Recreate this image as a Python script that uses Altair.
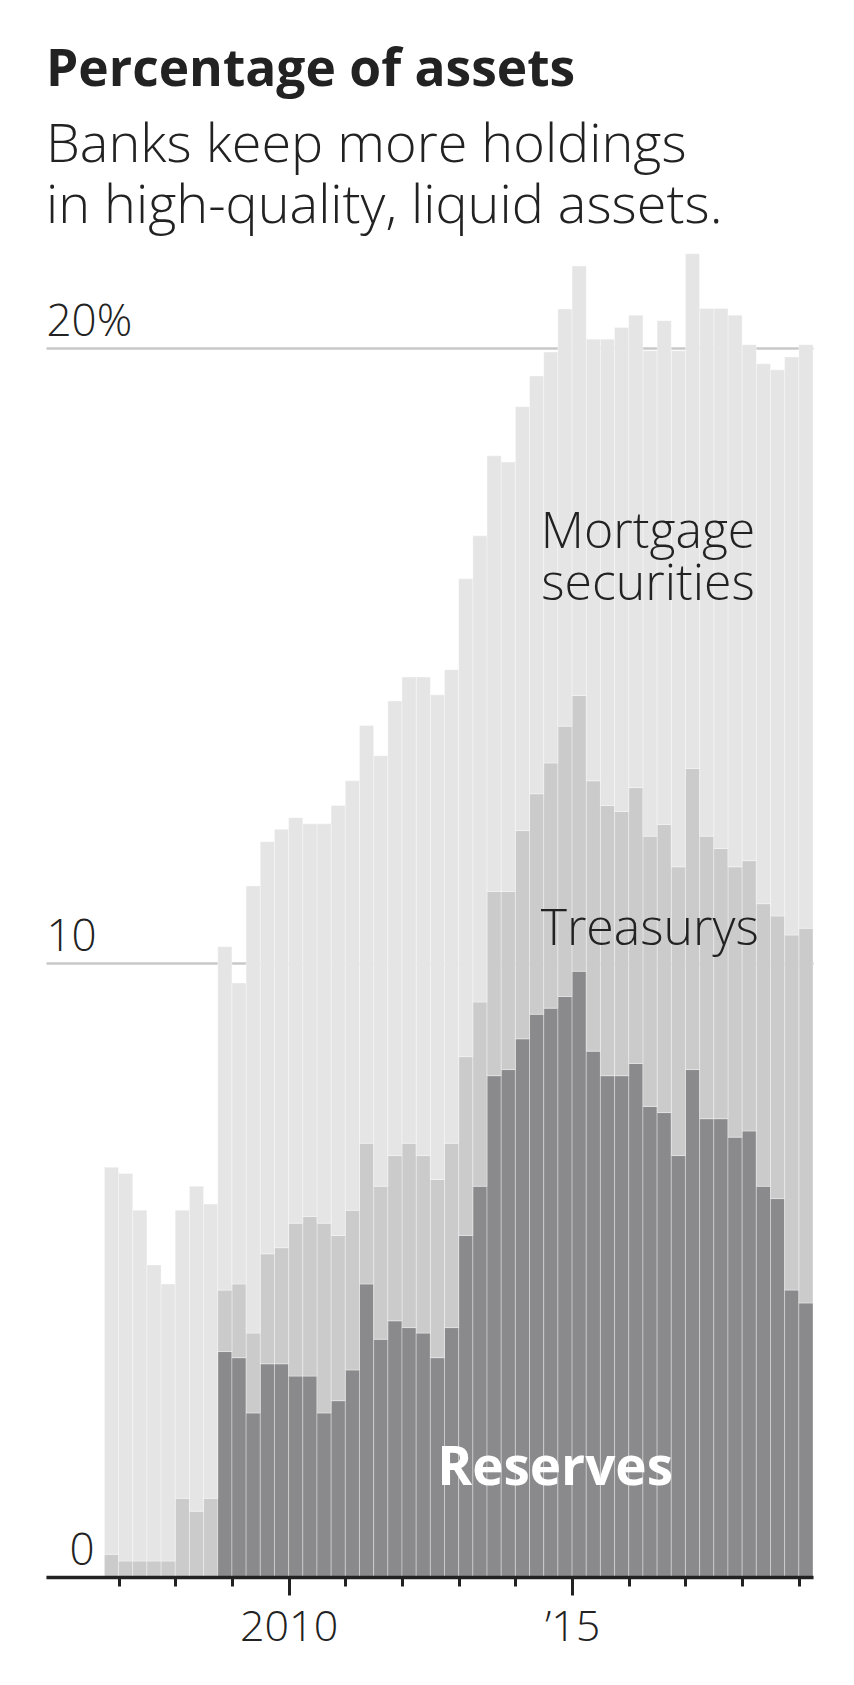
import altair as alt
import pandas as pd

# ---- data (percent of bank assets), quarterly ----
quarters = [
    "2006Q4",
    "2007Q1", "2007Q2", "2007Q3", "2007Q4",
    "2008Q1", "2008Q2", "2008Q3", "2008Q4",
    "2009Q1", "2009Q2", "2009Q3", "2009Q4",
    "2010Q1", "2010Q2", "2010Q3", "2010Q4",
    "2011Q1", "2011Q2", "2011Q3", "2011Q4",
    "2012Q1", "2012Q2", "2012Q3", "2012Q4",
    "2013Q1", "2013Q2", "2013Q3", "2013Q4",
    "2014Q1", "2014Q2", "2014Q3", "2014Q4",
    "2015Q1", "2015Q2", "2015Q3", "2015Q4",
    "2016Q1", "2016Q2", "2016Q3", "2016Q4",
    "2017Q1", "2017Q2", "2017Q3", "2017Q4",
    "2018Q1", "2018Q2", "2018Q3", "2018Q4",
    "2019Q1",
]
reserves = [
    0.00, 0.00, 0.00, 0.00, 0.00, 0.00, 0.00, 0.00, 3.67, 3.57,
    2.67, 3.47, 3.47, 3.27, 3.27, 2.67, 2.87, 3.37, 4.77, 3.87,
    4.17, 4.06, 3.97, 3.57, 4.06, 5.56, 6.36, 8.16, 8.26, 8.76,
    9.16, 9.26, 9.45, 9.86, 8.56, 8.16, 8.16, 8.36, 7.66, 7.56,
    6.86, 8.26, 7.46, 7.46, 7.16, 7.26, 6.36, 6.16, 4.67, 4.46,
]
treasurys = [
    0.37, 0.26, 0.26, 0.26, 0.26, 1.28, 1.07, 1.28, 1.00, 1.20,
    1.30, 1.79, 1.89, 2.49, 2.60, 3.09, 2.69, 2.60, 2.29, 2.49,
    2.69, 3.00, 2.89, 2.90, 3.00, 2.91, 3.00, 3.00, 2.90, 3.39,
    3.59, 3.99, 4.40, 4.49, 4.40, 4.40, 4.30, 4.49, 4.40, 4.69,
    4.70, 4.90, 4.60, 4.40, 4.40, 4.40, 4.60, 4.60, 5.78, 6.10,
]
mortgage = [
    6.30, 6.31, 5.71, 4.82, 4.51, 4.69, 5.29, 4.79, 5.59, 4.90,
    7.28, 6.71, 6.81, 6.60, 6.39, 6.50, 7.00, 6.99, 6.80, 7.01,
    7.40, 7.59, 7.79, 7.89, 7.71, 7.78, 7.59, 7.09, 6.99, 6.90,
    6.80, 6.69, 6.79, 6.99, 7.19, 7.59, 7.88, 7.69, 7.90, 8.20,
    8.40, 8.38, 8.59, 8.79, 8.98, 8.40, 8.79, 8.89, 9.41, 9.50,
]
series_names = ["Reserves", "Treasurys", "Mortgage securities"]
series_colors = ["#8a8a8c", "#cbcbcb", "#e6e5e6"]
year_ticks = list(range(2007, 2020))

# ---- long table with stacked extents ----
rows = []
for q, r, t, m in zip(quarters, reserves, treasurys, mortgage):
    start = int(q[:4]) + (int(q[-1]) - 1) * 0.25
    base = 0.0
    for name, val in zip(series_names, (r, t, m)):
        rows.append({"quarter": q, "x0": start, "x1": start + 0.25,
                     "series": name, "y0": base, "y1": base + val})
        base += val
df = pd.DataFrame(rows)

FONT = "Open Sans"
INK = "#222222"

xscale = alt.Scale(domain=[2005.72, 2019.25], nice=False, zero=False)
yscale = alt.Scale(domain=[0, 21.65], nice=False)

bars = alt.Chart(df).mark_bar(stroke="#ffffff", strokeWidth=0.5, strokeOpacity=0.7).encode(
    x=alt.X("x0:Q", scale=xscale, title=None,
            axis=alt.Axis(
                values=year_ticks,
                labelExpr="datum.value == 2010 ? '2010' : datum.value == 2015 ? '\u201915' : ''",
                grid=False, zindex=1,
                domainColor=INK, domainWidth=3.5,
                tickColor=INK, tickWidth=3,
                tickSize={"condition": {"test": "datum.value == 2010 || datum.value == 2015", "value": 18}, "value": 9},
                labelFont=FONT, labelFontSize=43, labelFontWeight=300, labelColor=INK,
                labelPadding=11, labelFlush=False, labelOverlap=False,
            )),
    x2="x1:Q",
    y=alt.Y("y0:Q", scale=yscale, title=None,
            axis=alt.Axis(
                values=[0, 10, 20],
                labelExpr="datum.value == 20 ? '20%' : datum.value == 10 ? '10' : '0'",
                grid=True, gridColor="#c8c8c8", gridWidth=2.5, zindex=0,
                domain=False, ticks=False, tickSize=0,
                labelAlign={"condition": {"test": "datum.value == 0", "value": "right"}, "value": "left"},
                labelPadding={"condition": {"test": "datum.value == 0", "value": -48}, "value": 0},
                labelBaseline="alphabetic", labelOffset=-12.5,
                labelFont=FONT, labelFontSize=44, labelFontWeight=300, labelColor=INK,
            )),
    y2="y1:Q",
    color=alt.Color("series:N", scale=alt.Scale(domain=series_names, range=series_colors), legend=None),
    order=alt.Order("y0:Q"),
)

lab_mort = pd.DataFrame({"x": [2016.34], "y": [16.75], "t": ["Mortgage\nsecurities"]})
lab_tres = pd.DataFrame({"x": [2016.37], "y": [10.29], "t": ["Treasurys"]})
lab_res = pd.DataFrame({"x": [2014.70], "y": [1.49], "t": ["Reserves"]})

def label(data, size, weight, color, lh=None):
    kw = dict(align="center", baseline="alphabetic", font=FONT, fontSize=size,
              fontWeight=weight, color=color)
    if lh:
        kw.update(lineBreak="\n", lineHeight=lh)
    return alt.Chart(data).mark_text(**kw).encode(
        x=alt.X("x:Q", scale=xscale), y=alt.Y("y:Q", scale=yscale), text="t:N")

chart = alt.layer(
    bars,
    label(lab_mort, 50, 300, INK, lh=52),
    label(lab_tres, 50, 300, INK),
    label(lab_res, 53, "bold", "#ffffff"),
).properties(
    width=767, height=1330,
    padding={"left": 38, "top": 36, "right": 10, "bottom": 10},
    title=alt.TitleParams(
        text="Percentage of assets",
        subtitle=["Banks keep more holdings", "in high-quality, liquid assets."],
        anchor="start", font=FONT, fontSize=51.5, fontWeight="bold", color=INK,
        subtitleFont=FONT, subtitleFontSize=54, subtitleFontWeight=300,
        subtitleColor=INK, subtitleLineHeight=61, subtitlePadding=23, offset=13,
    ),
).configure_view(stroke=None)

chart.save("out.html", embed_options={"renderer": "svg", "actions": False})
